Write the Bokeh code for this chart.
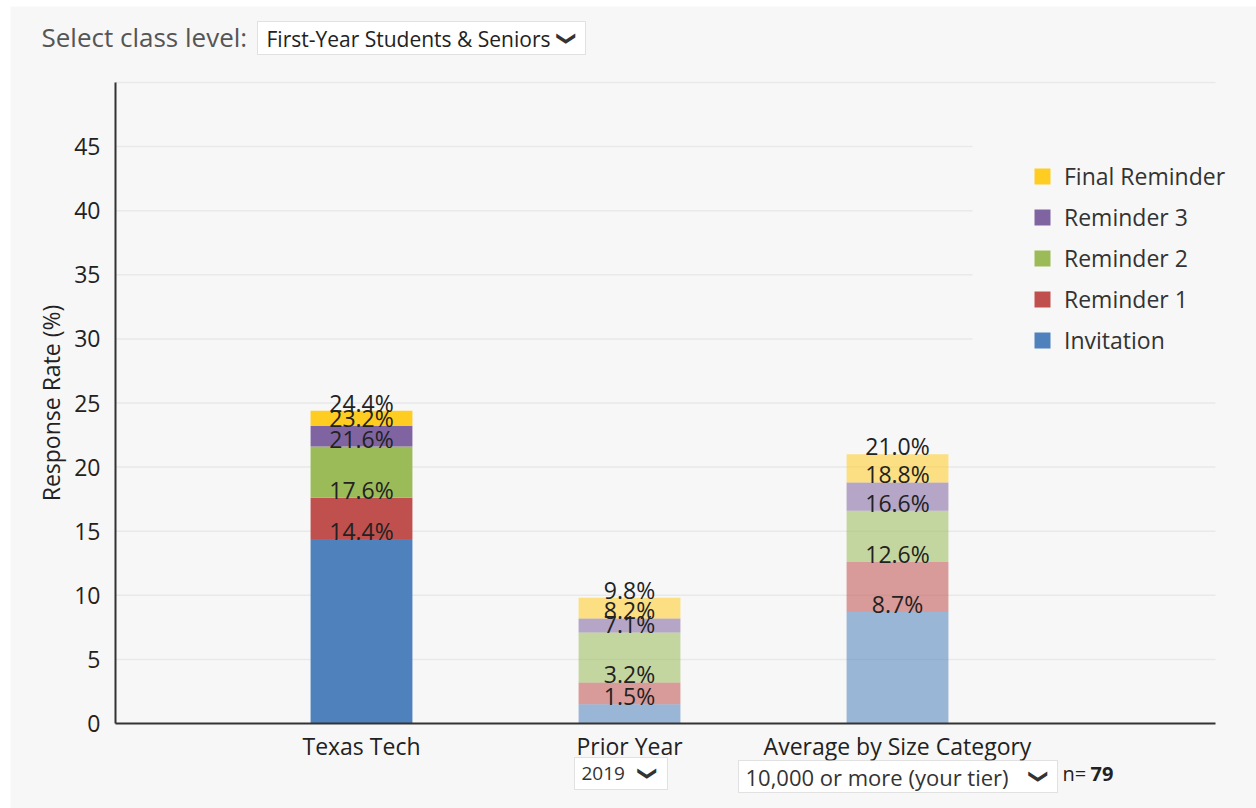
import math
from bokeh.plotting import figure
from bokeh.models import (ColumnDataSource, Range1d, FixedTicker, Label, BoxAnnotation,
                          Legend, LegendItem)
from bokeh.core.properties import value
from bokeh.embed import file_html
from bokeh.resources import INLINE

# ---------------- data ----------------
categories = ["Texas Tech", "Prior Year", "Average by Size Category"]
stages = ["Invitation", "Reminder 1", "Reminder 2", "Reminder 3", "Final Reminder"]
# cumulative response rate (%) after each contact
invitation = [14.4, 1.5, 8.7]
reminder1 = [17.6, 3.2, 12.6]
reminder2 = [21.6, 7.1, 16.6]
reminder3 = [23.2, 8.2, 18.8]
final_reminder = [24.4, 9.8, 21.0]
y_ticks = [0, 5, 10, 15, 20, 25, 30, 35, 40, 45, 50]
class_level = "First-Year Students & Seniors"
prior_year = "2019"
size_tier = "10,000 or more (your tier)"
n_count = "79"

colors = ["#4f81bd", "#c0504d", "#9bbb59", "#8064a2", "#ffcc22"]
alphas = [1.0, 0.55, 0.55]
FONT = "Open Sans"
BG = "#f7f7f7"
TXT = "#222222"

cumulative = [invitation, reminder1, reminder2, reminder3, final_reminder]
xs = list(range(1, len(categories) + 1))

# ---------------- layout (page pixels) ----------------
OX, OY = 10, 6            # figure offset on the page
W, H = 1246, 802          # figure size
PX_X, X1_PX = 268, 361    # px per category, page x of first category
PX_Y, Y0_PX = 12.82, 723  # px per percent, page y of 0
AX_L, AX_R = 115, 1215    # axis extent on page
LEG_L = 972               # legend area starts here (grid lines stop)


def dx(px):
    return 1 + (px - X1_PX) / PX_X


def dy(py):
    return (Y0_PX - py) / PX_Y


p = figure(width=W, height=H, output_backend="svg", toolbar_location=None,
           x_range=Range1d(dx(OX), dx(OX + W)), y_range=Range1d(dy(OY + H), dy(OY)),
           min_border_left=0, min_border_right=0, min_border_top=0, min_border_bottom=0)
p.margin = (OY, 0, 0, OX)
p.background_fill_color = BG
p.border_fill_color = BG
p.outline_line_color = None

# grid lines
ymax = y_ticks[-1]
gx1 = [dx(LEG_L) if 27.5 < t < 47.5 else dx(AX_R) for t in y_ticks[1:]]
p.segment(x0=[dx(AX_L)] * len(gx1), x1=gx1, y0=y_ticks[1:], y1=y_ticks[1:],
          line_color="#e9e9e9", line_width=1.5, level="underlay")

renderers = []
prev = [0] * len(xs)
for i, cum in enumerate(cumulative):
    src = ColumnDataSource(dict(x=xs, bottom=prev, top=cum, alpha=alphas))
    r = p.vbar(x="x", bottom="bottom", top="top", width=0.38, source=src,
               fill_color=colors[i], fill_alpha="alpha", line_color=None)
    renderers.append(r)
    prev = cum

for cum in cumulative:
    src = ColumnDataSource(dict(x=xs, y=cum, label=[f"{v:.1f}%" for v in cum]))
    p.text(x="x", y="y", text="label", source=src, text_align="center",
           text_baseline="middle", text_font=value(FONT), text_font_size="23px",
           text_color=TXT, y_offset=-8)

# axes at fixed positions
p.xaxis.fixed_location = 0
p.xaxis.bounds = (dx(AX_L), dx(AX_R))
p.yaxis.fixed_location = dx(AX_L)
p.yaxis.bounds = (0, ymax)
p.xaxis.ticker = FixedTicker(ticks=xs)
p.xaxis.major_label_overrides = {x: c for x, c in zip(xs, categories)}
p.yaxis.ticker = FixedTicker(ticks=y_ticks)
p.yaxis.major_label_overrides = {ymax: ""}
for ax in (p.xaxis, p.yaxis):
    ax.major_tick_line_color = None
    ax.minor_tick_line_color = None
    ax.axis_line_color = "#333333"
    ax.axis_line_width = 2
    ax.major_label_text_font = FONT
    ax.major_label_text_font_size = "23px"
    ax.major_label_text_color = TXT
p.xaxis.major_label_standoff = 0
p.yaxis.major_label_standoff = 9
p.yaxis.axis_label = "Response Rate (%)"
p.yaxis.axis_label_text_font = FONT
p.yaxis.axis_label_text_font_size = "23px"
p.yaxis.axis_label_text_font_style = "normal"
p.yaxis.axis_label_text_color = TXT
p.yaxis.axis_label_standoff = 4
p.xgrid.grid_line_color = None
p.ygrid.grid_line_color = None

legend = Legend(items=[LegendItem(label=stages[i], renderers=[renderers[i]], index=0)
                       for i in reversed(range(len(stages)))],
                location=(1032 - OX, OY + H - 356), orientation="vertical")
legend.label_text_font = FONT
legend.label_text_font_size = "23px"
legend.label_text_color = "#333333"
legend.glyph_width = 20
legend.glyph_height = 20
legend.label_height = 20
legend.spacing = 9
legend.padding = 3
legend.label_standoff = 12
legend.border_line_color = None
legend.background_fill_alpha = 0
p.add_layout(legend)


# ---- page furniture (canvas units) ----
def label(px, py, text, size="19px", color=TXT, style="normal"):
    p.add_layout(Label(x=px - OX, y=py - OY, x_units="canvas", y_units="canvas", text=text,
                       text_font=FONT, text_font_size=size, text_color=color,
                       text_font_style=style, text_baseline="middle", text_align="left",
                       level="overlay"))


def box(l, t, r, b):
    p.add_layout(BoxAnnotation(left=l - OX, right=r - OX, top=t - OY, bottom=b - OY,
                               left_units="canvas", right_units="canvas",
                               top_units="canvas", bottom_units="canvas",
                               fill_color="white", fill_alpha=1.0,
                               line_color="#a6a6a6", line_width=1, level="overlay"))


def chevron(px, py):
    p.add_layout(Label(x=px - OX, y=py - OY, x_units="canvas", y_units="canvas", text="\u276f",
                       text_font="DejaVu Sans", text_font_size="19px", text_color="#333333",
                       text_baseline="middle", text_align="center", angle=-math.pi / 2,
                       level="overlay"))


label(41, 36, "Select class level:", size="26px", color="#555555")
box(257, 21, 585, 54)
label(266, 38, class_level, size="21px")
chevron(567, 38)

box(574, 757, 667, 789)
label(581, 773, prior_year, size="19px", color="#333333")
chevron(648, 773)

box(738, 760, 1057, 792)
label(745, 776, size_tier, size="22px", color="#333333")
chevron(1039, 776)

label(1062, 773, "n=", size="20px")
label(1090, 773, n_count, size="20px", style="bold")

open("out.html", "w").write(file_html(p, INLINE))
